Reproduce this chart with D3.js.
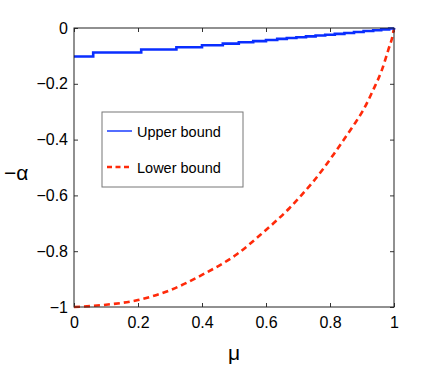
<!DOCTYPE html>
<html>
<head>
<meta charset="utf-8">
<script src="https://cdn.jsdelivr.net/npm/d3@7"></script>
<style>
  body { margin: 0; background: #fff; }
  svg { display: block; font-family: "Liberation Sans", Arial, sans-serif; }
</style>
</head>
<body>
<div id="chart"></div>
<script>
// Upper bound: staircase (step starts at each mu)
const upperMu = [0, 0.06, 0.21, 0.32, 0.40, 0.465, 0.515, 0.56, 0.60, 0.635, 0.665, 0.695, 0.725, 0.755, 0.785, 0.815, 0.845, 0.875, 0.905, 0.935, 0.96, 0.985, 1];
const upperVal = [-0.102, -0.088, -0.077, -0.069, -0.062, -0.056, -0.051, -0.047, -0.043, -0.039, -0.036, -0.033, -0.030, -0.027, -0.024, -0.021, -0.018, -0.0145, -0.011, -0.008, -0.005, -0.002, 0];

// Lower bound: dashed curve
const lowerMu = [0, 0.09, 0.2, 0.3, 0.4, 0.51, 0.59, 0.633, 0.673, 0.706, 0.743, 0.776, 0.81, 0.836, 0.873, 0.904, 0.935, 0.962, 0.982, 0.996, 1];
const lowerVal = [-1, -0.993, -0.975, -0.94, -0.885, -0.81, -0.734, -0.69, -0.646, -0.605, -0.557, -0.509, -0.455, -0.412, -0.350, -0.294, -0.222, -0.151, -0.079, -0.025, 0];

const xTicks = [0, 0.2, 0.4, 0.6, 0.8, 1];
const xTickLabels = ['0', '0.2', '0.4', '0.6', '0.8', '1'];
const yTicks = [0, -0.2, -0.4, -0.6, -0.8, -1];
const yTickLabels = ['0', '\u22120.2', '\u22120.4', '\u22120.6', '\u22120.8', '\u22121'];

const legendLabels = ['Upper bound', 'Lower bound'];

const width = 436, height = 380;
const margin = { top: 28, right: 42, bottom: 73, left: 74 };
const innerW = width - margin.left - margin.right;
const innerH = height - margin.top - margin.bottom;

const svg = d3.select('#chart').append('svg')
    .attr('width', width)
    .attr('height', height);

const g = svg.append('g')
    .attr('transform', `translate(${margin.left},${margin.top})`);

const x = d3.scaleLinear().domain([0, 1]).range([0, innerW]);
const y = d3.scaleLinear().domain([-1, 0]).range([innerH, 0]);

// Axes with inward ticks on all four sides
const fontSize = '16px';
const xAxis = g.append('g')
    .attr('transform', `translate(0,${innerH})`)
    .call(d3.axisBottom(x).tickValues(xTicks).tickSizeInner(-4).tickSizeOuter(0).tickPadding(10)
        .tickFormat((d, i) => xTickLabels[i]));
const yAxis = g.append('g')
    .call(d3.axisLeft(y).tickValues(yTicks).tickSizeInner(-4).tickSizeOuter(0).tickPadding(6)
        .tickFormat((d, i) => yTickLabels[i]));
const xTop = g.append('g')
    .call(d3.axisTop(x).tickValues(xTicks).tickSizeInner(-4).tickSizeOuter(0).tickFormat(''));
const yRight = g.append('g')
    .attr('transform', `translate(${innerW},0)`)
    .call(d3.axisRight(y).tickValues(yTicks).tickSizeInner(-4).tickSizeOuter(0).tickFormat(''));

[xAxis, yAxis, xTop, yRight].forEach(a => {
    a.select('.domain').remove();
    a.selectAll('line').attr('stroke', '#333');
    a.selectAll('text').style('font-size', fontSize).attr('fill', '#000');
});

// Data lines
const upperLine = d3.line()
    .x(d => x(d[0]))
    .y(d => y(d[1]))
    .curve(d3.curveStepAfter);
const lowerLine = d3.line()
    .x(d => x(d[0]))
    .y(d => y(d[1]))
    .curve(d3.curveMonotoneX);

g.append('path')
    .datum(lowerMu.map((m, i) => [m, lowerVal[i]]))
    .attr('d', lowerLine)
    .attr('fill', 'none')
    .attr('stroke', '#ff2a0a')
    .attr('stroke-width', 2.6)
    .attr('stroke-dasharray', '6,4');

g.append('path')
    .datum(upperMu.map((m, i) => [m, upperVal[i]]))
    .attr('d', upperLine)
    .attr('fill', 'none')
    .attr('stroke', '#0a2eff')
    .attr('stroke-width', 2.6);

// Box
g.append('rect')
    .attr('width', innerW)
    .attr('height', innerH)
    .attr('fill', 'none')
    .attr('stroke', '#222')
    .attr('stroke-width', 1);

// Axis labels
svg.append('text')
    .attr('x', margin.left + innerW / 2)
    .attr('y', 360)
    .attr('text-anchor', 'middle')
    .style('font-size', '21px')
    .text('\u03bc');
svg.append('text')
    .attr('x', 4)
    .attr('y', 180)
    .style('font-size', '21px')
    .text('\u2212\u03b1');

// Legend
const legend = svg.append('g').attr('transform', 'translate(102,112)');
legend.append('rect')
    .attr('width', 141)
    .attr('height', 75)
    .attr('fill', '#fff')
    .attr('stroke', '#777')
    .attr('stroke-width', 1);
const legendStyles = [
    { color: '#0a2eff', dash: null, width: 1.4 },
    { color: '#ff2a0a', dash: '5,3.5', width: 2.6 }
];
legendLabels.forEach((label, i) => {
    const row = legend.append('g').attr('transform', `translate(0,${19 + i * 36})`);
    row.append('line')
        .attr('x1', 5).attr('x2', 30)
        .attr('stroke', legendStyles[i].color)
        .attr('stroke-width', legendStyles[i].width)
        .attr('stroke-dasharray', legendStyles[i].dash);
    row.append('text')
        .attr('x', 35)
        .attr('y', 5.5)
        .style('font-size', '14.5px')
        .text(label);
});
</script>
</body>
</html>
